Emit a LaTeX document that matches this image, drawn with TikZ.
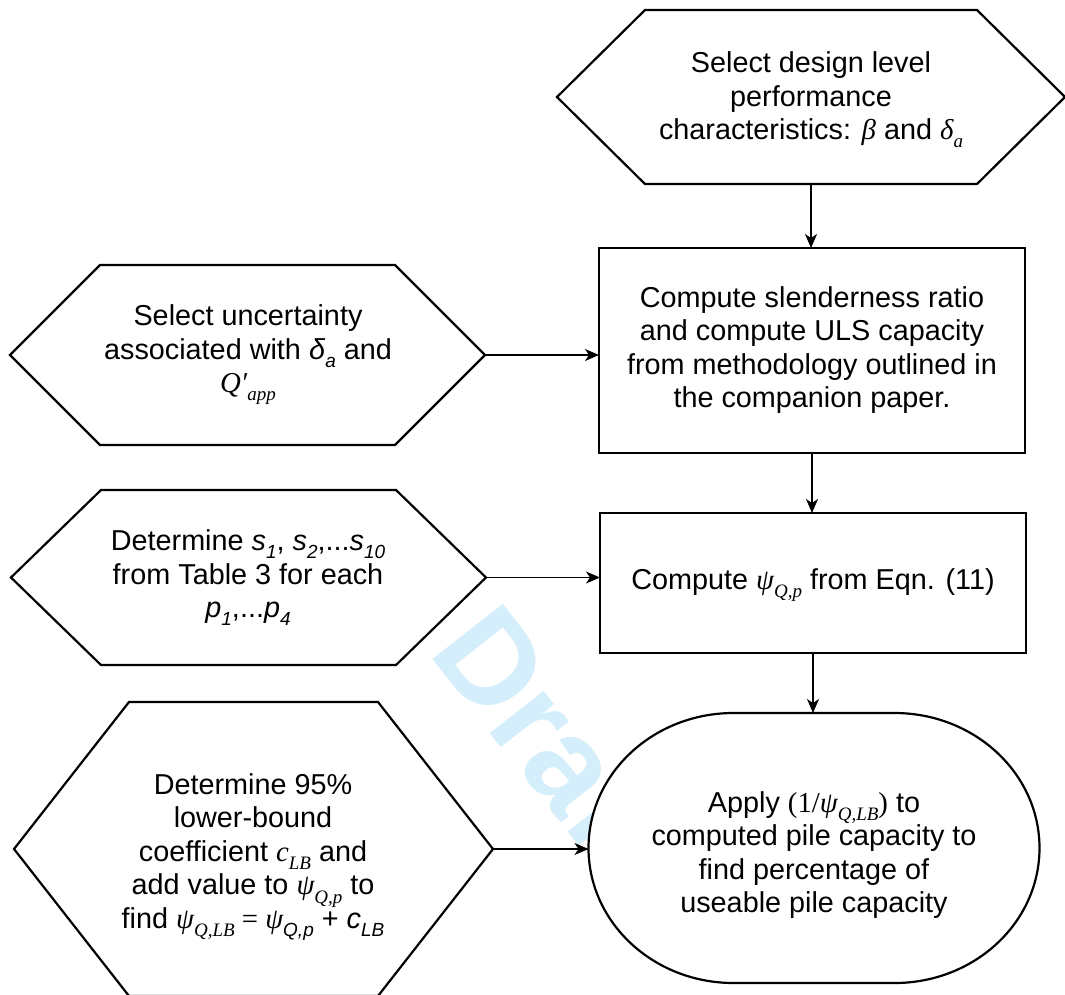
\documentclass[tikz,border=0pt]{standalone}
\usepackage{fontspec}
\setmainfont{Liberation Sans}
\newfontfamily\tm{Liberation Serif}
\usetikzlibrary{arrows.meta,calc}
\newcommand\tmi[1]{{\tm\itshape #1}}
\newcommand\sbs[1]{\raisebox{-0.28em}{\fontsize{19}{19}\selectfont #1}}
\definecolor{wmblue}{RGB}{213,238,251}
\tikzset{
  holder/.style={draw=none, inner sep=0pt, outer sep=0pt},
  txt/.style={inner sep=0pt, align=center, font=\fontsize{28.8}{33.5}\selectfont},
  shapeline/.style={draw=black, line width=2.2pt, fill=white, line join=miter},
  arr/.style={draw=black, line width=1.4pt, -{Stealth[length=14pt,width=12pt,inset=4pt]}},
  wmark/.style={text=wmblue, font=\bfseries\fontsize{130}{130}\selectfont, inner sep=0pt}
}
\newcommand\hexa[2]{%
  \draw[shapeline] (#1.west) -- ($(#1.north west)+(#2,0)$) -- ($(#1.north east)+(-#2,0)$)
    -- (#1.east) -- ($(#1.south east)+(-#2,0)$) -- ($(#1.south west)+(#2,0)$) -- cycle;}
\begin{document}
\begin{tikzpicture}[x=1pt,y=-1pt]
\useasboundingbox (0,0) rectangle (1065,994);
\clip (0,0) rectangle (1065,994);
\fill[white] (0,0) rectangle (1065,994);

% watermark
\node[wmark, rotate=-52, anchor=base west] (wm) at (427,652) {Draft};

% shape holders
\node[holder, minimum width=508pt, minimum height=174pt] (top) at (811,97) {};
\node[holder, minimum width=426pt, minimum height=205pt] (r1) at (812,350.5) {};
\node[holder, minimum width=426pt, minimum height=140pt] (r2) at (813,583) {};
\node[holder, minimum width=451pt, minimum height=270pt] (st) at (814,848) {};
\node[holder, minimum width=475pt, minimum height=180pt] (h2) at (247.5,355) {};
\node[holder, minimum width=475pt, minimum height=175pt] (h3) at (248.5,577.5) {};
\node[holder, minimum width=479pt, minimum height=294pt] (h4) at (253.5,849) {};

% shapes
\hexa{top}{88}
\hexa{h2}{90}
\hexa{h3}{90}
\hexa{h4}{115}
\draw[shapeline] (r1.north west) rectangle (r1.south east);
\draw[shapeline] (r2.north west) rectangle (r2.south east);
\draw[shapeline] ($(st.north west)+(145,0)$) -- ($(st.north east)+(-145,0)$)
  arc[start angle=-90, end angle=90, x radius=145, y radius=135]
  -- ($(st.south west)+(145,0)$)
  arc[start angle=90, end angle=270, x radius=145, y radius=135] -- cycle;

% texts
\node[txt] (topt) at (811,100) {Select design level\\performance\\characteristics: \tmi{β} and \tmi{δ}\sbs{\tmi{a}}};
\node[txt] (r1t) at (812,350) {Compute slenderness ratio\\and compute ULS capacity\\from methodology outlined in\\the companion paper.};
\node[txt] (r2t) at (813,585) {Compute \tmi{ψ}\sbs{\tmi{Q,p}} from Eqn. (11)};
\node[txt] (h2t) at (248,355) {Select uncertainty\\associated with \textit{δ}\sbs{\textit{a}} and\\\tmi{Q′}\sbs{\tmi{app}}};
\node[txt] (h3t) at (248,578) {Determine \textit{s}\sbs{\textit{1}}, \textit{s}\sbs{\textit{2}},...\textit{s}\sbs{\textit{10}}\\from Table 3 for each\\\textit{p}\sbs{\textit{1}},...\textit{p}\sbs{\textit{4}}};
\node[txt] (h4t) at (253,857) {Determine 95\%\\lower-bound\\coefficient \tmi{c}\sbs{\tmi{LB}} and\\add value to \tmi{ψ}\sbs{\tmi{Q,p}} to\\find \tmi{ψ}\sbs{\tmi{Q,LB}}{\tm\ = }\tmi{ψ}\sbs{\textit{Q,p}} + \textit{c}\sbs{\textit{LB}}};
\node[txt] (stt) at (814,855) {Apply {\tm(1/}\tmi{ψ}\sbs{\tmi{Q,LB}}{\tm)} to\\computed pile capacity to\\find percentage of\\useable pile capacity};

% connectors
\draw[arr] (top.south) -- (top.south |- r1.north);
\draw[arr] (r1.south) -- (r1.south |- r2.north);
\draw[arr] (r2.south) -- (r2.south |- st.north);
\draw[arr] (h2.east) -- (r1.west |- h2.east);
\draw[arr] (h3.east) -- (r2.west |- h3.east);
\draw[arr] (h4.east) -- (st.west |- h4.east);
\end{tikzpicture}
\end{document}
